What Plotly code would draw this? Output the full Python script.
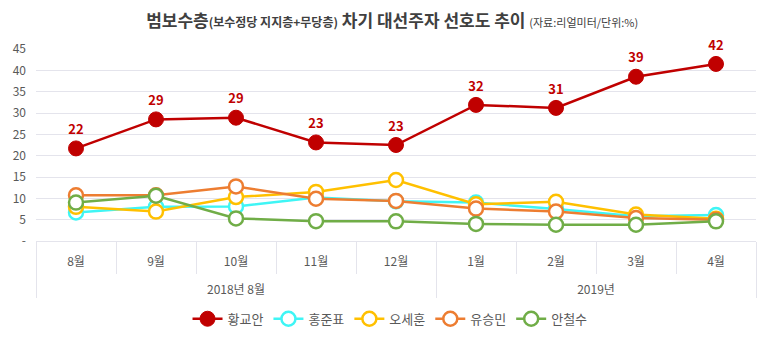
import plotly.graph_objects as go

months = ["8월", "9월", "10월", "11월", "12월", "1월", "2월", "3월", "4월"]
years = ["2018년 8월"] * 5 + ["2019년"] * 4

hwang = [21.7, 28.5, 28.9, 23.1, 22.5, 31.9, 31.2, 38.5, 41.5]
hong = [6.7, 8.0, 8.1, 10.2, 9.3, 9.0, 7.5, 5.8, 6.1]
oh = [8.0, 6.9, 10.3, 11.5, 14.3, 8.6, 9.2, 6.2, 5.2]
yoo = [10.7, 10.7, 12.8, 9.9, 9.4, 7.6, 6.9, 5.4, 5.0]
ahn = [9.0, 10.6, 5.3, 4.65, 4.6, 4.0, 3.8, 3.8, 4.6]

series_names = ["황교안", "홍준표", "오세훈", "유승민", "안철수"]
colors = ["#C00000", "#3FF5F5", "#FFC000", "#ED7D31", "#70AD47"]

ytick_vals = [0, 5, 10, 15, 20, 25, 30, 35, 40, 45]
ytick_text = ["-", "5", "10", "15", "20", "25", "30", "35", "40", "45"]

FONT = "Noto Sans CJK KR"
# month labels get an empty second line so the year row sits lower
month_labels = [m + "<br><span style='font-size:22px'> </span>" for m in months]
x = [years, month_labels]

fig = go.Figure()
fig.add_trace(go.Scatter(
    x=x, y=hwang, name=series_names[0], mode="lines+markers",
    line=dict(color=colors[0], width=2.5),
    marker=dict(size=15, color=colors[0], line=dict(color=colors[0], width=1)),
))
for name, vals, c in zip(series_names[1:], [hong, oh, yoo, ahn], colors[1:]):
    fig.add_trace(go.Scatter(
        x=x, y=vals, name=name, mode="lines+markers",
        line=dict(color=c, width=2.5),
        marker=dict(size=14, color="white", line=dict(color=c, width=2.5)),
    ))
# data labels for 황교안
fig.add_trace(go.Scatter(
    x=x, y=hwang, mode="markers+text", showlegend=False, hoverinfo="skip",
    marker=dict(size=16, opacity=0), cliponaxis=False,
    text=[f"{v:.0f}" if v % 1 != 0.5 else f"{v+0.5:.0f}" for v in hwang],
    textposition="top center",
    textfont=dict(family=FONT, size=13, color=colors[0], weight="bold"),
))

fig.update_layout(
    width=773, height=356,
    margin=dict(l=28, r=25, t=41, b=123),
    paper_bgcolor="white", plot_bgcolor="white",
    font=dict(family=FONT, color="#595959", size=12),
    title=dict(
        text="<b>범보수층<span style='font-size:12px'>(보수정당 지지층+무당층)</span> 차기 대선주자 선호도 추이</b>"
             " <span style='font-size:11px'>(자료:리얼미터/단위:%)</span>",
        x=0.497, xanchor="center", y=0.9635, yref="container", yanchor="middle",
        font=dict(family=FONT, size=17, color="#404040"),
    ),
    showlegend=True,
    legend=dict(orientation="h", x=0.4917, xanchor="center", y=0.127, yref="container",
                yanchor="middle", font=dict(family=FONT, size=13, color="#595959"),
                itemwidth=30, tracegroupgap=0),
)
fig.update_yaxes(
    range=[0, 45], tickvals=ytick_vals, ticktext=ytick_text,
    showgrid=True, gridcolor="#E4E4EC", gridwidth=1, zeroline=False,
    tickfont=dict(family=FONT, size=12, color="#595959"), ticks="",
    ticklabelstandoff=9,
    showline=False, fixedrange=True, automargin=False,
)
fig.update_xaxes(
    type="multicategory", showgrid=False, automargin=False,
    range=[-0.5, 8.5],
    showline=True, linecolor="#E4E4EC", linewidth=1,
    ticks="outside", tickson="boundaries", ticklen=32, tickcolor="#E4E4EC",
    ticklabelstandoff=10,
    showdividers=True, dividercolor="#E4E4EC", dividerwidth=1,
    tickfont=dict(family=FONT, size=12, color="#595959"),
)

fig.write_html("out.html")
